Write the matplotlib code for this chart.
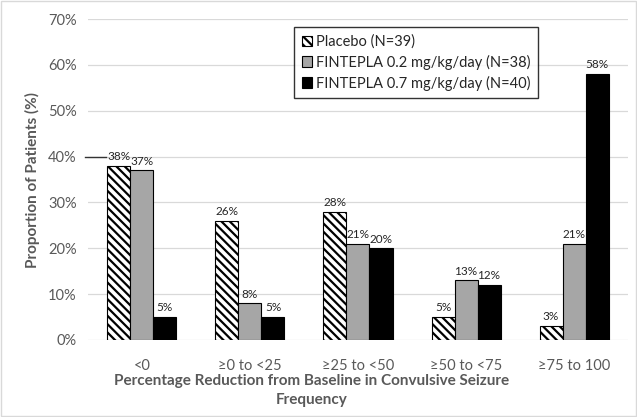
import numpy as np
import matplotlib.pyplot as plt
from matplotlib.patches import Rectangle

categories = ['<0', '≥0 to <25', '≥25 to <50', '≥50 to <75', '≥75 to 100']
placebo = [38, 26, 28, 5, 3]
low_dose = [37, 8, 21, 13, 21]
high_dose = [5, 5, 20, 12, 58]
series_names = ['Placebo (N=39)', 'FINTEPLA 0.2 mg/kg/day (N=38)', 'FINTEPLA 0.7 mg/kg/day (N=40)']

plt.rcParams['font.family'] = ['Lato', 'DejaVu Sans']
plt.rcParams['hatch.color'] = '#404040'
plt.rcParams['hatch.linewidth'] = 1.6

fig = plt.figure(figsize=(6.37, 4.17), dpi=100)
ax = fig.add_axes([0.138, 0.185, 0.848, 0.769])

x = np.arange(len(categories))
w = 0.213
b1 = ax.bar(x - w, placebo, w, color='white', edgecolor='black', linewidth=0.8, hatch='\\\\\\\\', label=series_names[0], zorder=3)
b2 = ax.bar(x, low_dose, w, color='#a6a6a6', edgecolor='black', linewidth=0.8, label=series_names[1], zorder=3)
b3 = ax.bar(x + w, high_dose, w, color='black', edgecolor='black', linewidth=0.8, label=series_names[2], zorder=3)

for bars, vals in [(b1, placebo), (b2, low_dose), (b3, high_dose)]:
    for r, v in zip(bars, vals):
        ax.text(r.get_x() + r.get_width() / 2, v + 0.8, f'{v}%', ha='center', va='bottom',
                fontsize=8.5, color='#262626')

ax.set_xlim(-0.5, len(categories) - 0.5)
ax.set_ylim(0, 70)
ax.set_yticks(np.arange(0, 71, 10))
ax.set_yticklabels([f'{t}%' for t in range(0, 71, 10)])
ax.set_xticks(x)
ax.set_xticklabels(categories)
ax.tick_params(axis='both', length=0, labelsize=10.5, colors='#595959', pad=8)
ax.tick_params(axis='x', pad=14)
ax.grid(axis='y', color='#d9d9d9', linewidth=0.9, zorder=0)
for s in ax.spines.values():
    s.set_visible(False)
# stray dark tick at 40% on the left edge
ax.plot([-0.53, -0.33], [40, 40], color='#333333', linewidth=1, clip_on=False, zorder=4)

ax.set_ylabel('Proportion of Patients (%)', fontsize=11, fontweight='bold', color='#595959', labelpad=6)
fig.text(312 / 637, 1 - 381 / 417, 'Percentage Reduction from Baseline in Convulsive Seizure',
         ha='center', va='center', fontsize=11, fontweight='bold', color='#595959')
fig.text(312 / 637, 1 - 400 / 417, 'Frequency',
         ha='center', va='center', fontsize=11, fontweight='bold', color='#595959')

leg = ax.legend(loc='upper right', bbox_to_anchor=(450 / 540, 313 / 321), fontsize=10.5, frameon=True,
                fancybox=False, edgecolor='black', handlelength=0.7, handleheight=0.7,
                handletextpad=0.3, borderpad=0.5, labelspacing=0.4, borderaxespad=0)
leg.get_frame().set_linewidth(1.0)
for t in leg.get_texts():
    t.set_color('#262626')

fig.patches.append(Rectangle((0.002, 0.002), 0.996, 0.996, transform=fig.transFigure,
                             fill=False, edgecolor='#d9d9d9', linewidth=1))

fig.savefig('out.png', dpi=100)
